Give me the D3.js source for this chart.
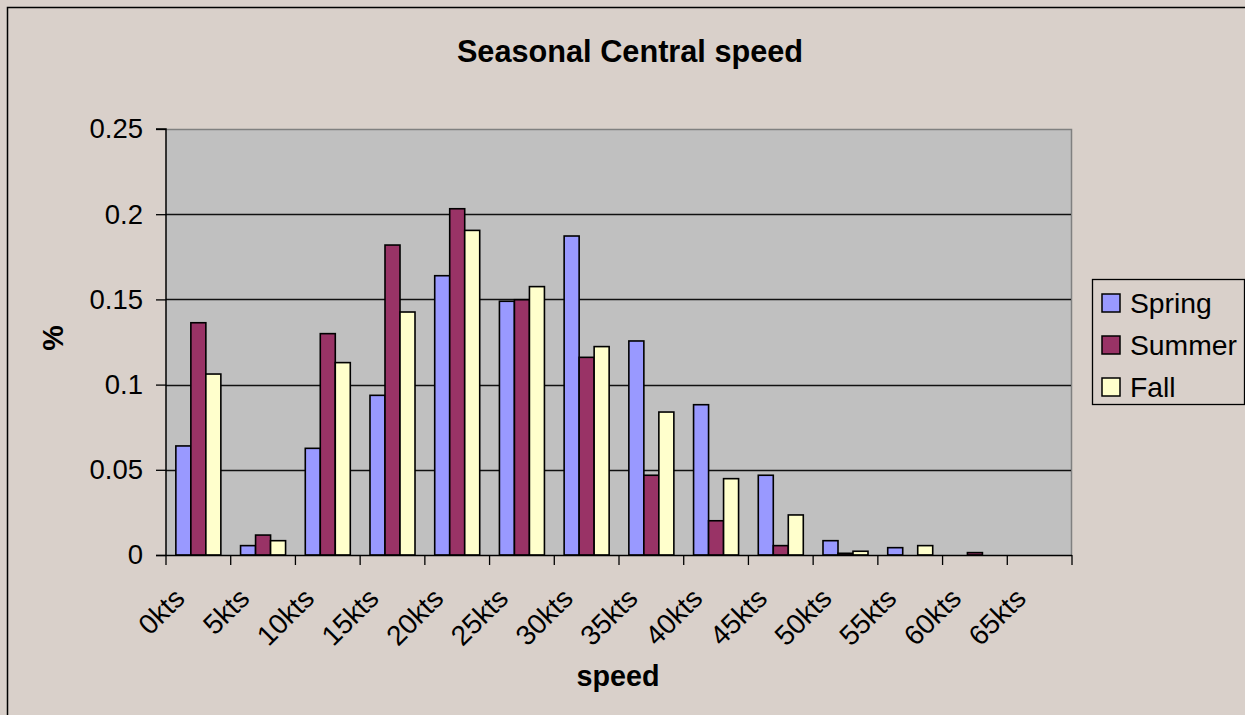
<!DOCTYPE html>
<html><head><meta charset="utf-8">
<script src="https://cdn.jsdelivr.net/npm/d3@7"></script>
<style>
html,body{margin:0;padding:0;background:#d9d0ca;}
svg{display:block;font-family:"Liberation Sans",Arial,sans-serif;}
</style></head>
<body>
<svg id="chart" width="1245" height="715"></svg>
<script>
const categories = ["0kts","5kts","10kts","15kts","20kts","25kts","30kts","35kts","40kts","45kts","50kts","55kts","60kts","65kts"];
const seriesNames = ["Spring","Summer","Fall"];
const spring = [0.064,0.0055,0.0626,0.0937,0.1639,0.1489,0.1872,0.1256,0.0882,0.0468,0.0084,0.0043,0,0];
const summer = [0.1363,0.0117,0.1299,0.1819,0.2032,0.1498,0.116,0.0468,0.0201,0.0055,0.001,0,0.0014,0];
const fall = [0.1062,0.0084,0.1129,0.1426,0.1905,0.1575,0.1223,0.0839,0.0448,0.0235,0.0022,0.0055,0,0];
const yTicks = [0,0.05,0.1,0.15,0.2,0.25];
const colors = ["#9999ff","#993366","#ffffcc"];
const seriesValues = [spring, summer, fall];

const svg = d3.select("#chart");
const plot = {left:166, top:129, right:1072, bottom:555};

// outer background & border
svg.append("rect").attr("x",7.5).attr("y",7.5).attr("width",1245).attr("height",715)
  .attr("fill","#d9d0ca").attr("stroke","#000").attr("stroke-width",1.5);

const x0 = d3.scaleBand().domain(categories).range([plot.left, plot.right]).padding(0);
const x1 = d3.scaleBand().domain(seriesNames).range([0, x0.bandwidth()]).paddingInner(0).paddingOuter(0.657);
const y = d3.scaleLinear().domain([0,0.25]).range([plot.bottom, plot.top]);

// plot area
svg.append("rect").attr("x",plot.left).attr("y",plot.top)
  .attr("width",plot.right-plot.left).attr("height",plot.bottom-plot.top)
  .attr("fill","#c0c0c0");
svg.append("path").attr("d",`M${plot.left},${plot.top+0.5}H${plot.right-0.5}V${plot.bottom}`)
  .attr("fill","none").attr("stroke","#808080").attr("stroke-width",1.5);

// gridlines
svg.append("g").selectAll("line").data(yTicks.filter(t=>t>0 && t<0.25)).join("line")
  .attr("x1",plot.left).attr("x2",plot.right-1)
  .attr("y1",d=>Math.round(y(d))+0.5).attr("y2",d=>Math.round(y(d))+0.5)
  .attr("stroke","#111").attr("stroke-width",1.3);

// bars
const groups = svg.append("g").selectAll("g").data(categories).join("g")
  .attr("transform",d=>`translate(${x0(d)},0)`);
groups.selectAll("rect").data((d,i)=>seriesNames.map((s,j)=>({s, v:seriesValues[j][i], c:colors[j]})))
  .join("rect")
  .filter(d=>d.v>0)
  .attr("x",d=>x1(d.s)).attr("width",x1.bandwidth())
  .attr("y",d=>y(d.v)).attr("height",d=>y(0)-y(d.v))
  .attr("fill",d=>d.c).attr("stroke","#000").attr("stroke-width",1.6);

// y axis
const yAxis = d3.axisLeft(y).tickValues(yTicks).tickSize(10).tickPadding(13)
  .tickFormat(d=>d3.format("")(+d.toFixed(2)));
const gy = svg.append("g").attr("transform",`translate(${plot.left},0)`).call(yAxis);
gy.select(".domain").attr("stroke","#000").attr("stroke-width",1.5).attr("d",`M-10,${plot.top}H0V${plot.bottom}`);
gy.selectAll(".tick line").attr("stroke","#000").attr("stroke-width",1.3);
gy.selectAll("text").attr("font-size",27.5).attr("fill","#000").attr("font-family","Liberation Sans, Arial, sans-serif");

// x axis
const xBounds = categories.map(c=>x0(c)).concat([plot.right]);
svg.append("line").attr("x1",plot.left-10).attr("x2",plot.right).attr("y1",plot.bottom+0.5).attr("y2",plot.bottom+0.5)
  .attr("stroke","#000").attr("stroke-width",1.5);
svg.append("g").selectAll("line").data(xBounds).join("line")
  .attr("x1",d=>d).attr("x2",d=>d).attr("y1",plot.bottom).attr("y2",plot.bottom+10)
  .attr("stroke","#000").attr("stroke-width",1.3);
svg.append("g").selectAll("text").data(categories).join("text")
  .attr("transform",d=>`translate(${x0(d)+x0.bandwidth()/2-12},600) rotate(-45)`)
  .attr("text-anchor","end").attr("font-size",28).attr("fill","#000").text(d=>d);

// titles
svg.append("text").attr("x",630).attr("y",62).attr("text-anchor","middle")
  .attr("font-size",30.7).attr("font-weight","bold").text("Seasonal Central speed");
svg.append("text").attr("x",618).attr("y",686).attr("text-anchor","middle")
  .attr("font-size",28.7).attr("font-weight","bold").text("speed");
svg.append("text").attr("transform","translate(63,338) rotate(-90)").attr("text-anchor","middle")
  .attr("font-size",28.7).attr("font-weight","bold").text("%");

// legend
const lg = svg.append("g");
lg.append("rect").attr("x",1092.5).attr("y",279.5).attr("width",152).attr("height",125)
  .attr("fill","#d9d0ca").attr("stroke","#000").attr("stroke-width",1.3);
const li = lg.selectAll("g").data(seriesNames).join("g")
  .attr("transform",(d,i)=>`translate(1102,${294+i*42})`);
li.append("rect").attr("width",18).attr("height",18).attr("fill",(d,i)=>colors[i])
  .attr("stroke","#000").attr("stroke-width",1.5);
li.append("text").attr("x",28).attr("y",18.5).attr("font-size",28.3).text(d=>d);
</script>
</body></html>
